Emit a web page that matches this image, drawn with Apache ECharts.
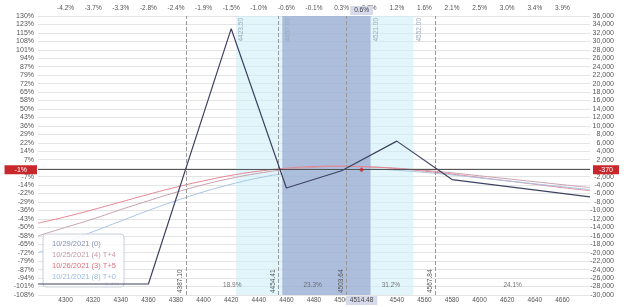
<!DOCTYPE html>
<html><head><meta charset="utf-8">
<script src="https://cdn.jsdelivr.net/npm/echarts@6/dist/echarts.min.js"></script>
<style>html,body{margin:0;padding:0;background:#fff}#c{width:624px;height:307px}</style>
</head><body><div id="c"></div>
<script>
// ---- data ----
const priceTicks = [4300,4320,4340,4360,4380,4400,4420,4440,4460,4480,4500,4520,4540,4560,4580,4600,4620,4640,4660];
const pctTopLabels = ["-4.2%","-3.7%","-3.3%","-2.8%","-2.4%","-1.9%","-1.5%","-1.0%","-0.6%","-0.1%","0.3%","0.7%","1.2%","1.6%","2.1%","2.5%","3.0%","3.4%","3.9%"];
const pctLeftLabels = ["130%","123%","115%","108%","101%","94%","87%","79%","72%","65%","58%","50%","43%","36%","29%","22%","14%","7%","0%","-7%","-14%","-22%","-29%","-36%","-43%","-50%","-58%","-65%","-72%","-79%","-87%","-94%","-101%","-108%"];
const seriesNames = ["10/29/2021 (0)","10/25/2021 (4) T+4","10/26/2021 (3) T+5","10/21/2021 (8) T+0"];
const expiryPnl = [[4280,-27400],[4360,-27400],[4420,33000],[4460,-4700],[4500,-600],[4540,6400],[4580,-2700],[4680,-6800]];
const curvePrices = [4280,4300,4320,4340,4360,4380,4400,4420,4440,4460,4480,4500,4520,4540,4560,4580,4600,4620,4640,4660,4680];
const tPlus4 = [-16000,-14000,-12000,-9800,-7700,-5700,-3900,-2400,-1200,-300,200,400,300,0,-500,-1100,-1800,-2500,-3200,-3900,-4600];
const tPlus5 = [-13000,-11500,-9800,-8000,-6200,-4500,-3000,-1700,-700,0,400,500,300,-100,-700,-1400,-2200,-3000,-3800,-4600,-5300];
const tPlus0 = [-20000,-17500,-15000,-12500,-10000,-7700,-5600,-3800,-2300,-1200,-500,-200,-200,-500,-1000,-1600,-2300,-3000,-3700,-4400,-5100];
const breakevens = [4387.10,4454.41,4503.64,4567.84];
const probLabels = ["8.4%","18.9%","23.3%","31.2%","24.1%"];
const outerBand = [4423.5,4552.0];
const innerBand = [4457.0,4521.0];
const currentPrice = 4514.48;
const currentPnl = -370;
const currentPctX = "0.6%";
const currentPctY = "-1%";

const xMin = 4280, xMax = 4680, yMin = -30000, yMax = 36000, yStep = 2000;

// ---- chart ----
const chart = echarts.init(document.getElementById('c'), null, {renderer:'canvas'});
const fmtK = v => (v<0?'-':'') + Math.abs(v).toLocaleString('en-US');
const font = 'Liberation Sans, Arial, sans-serif';
const txt = '#555';
const clear = 'rgba(0,0,0,0)';

const bounds = [xMin].concat(breakevens).concat([xMax]);
const probData = probLabels.map((p,i)=>({value:[(bounds[i]+bounds[i+1])/2, -27600], label:{formatter:p}}));

const option = {
  animation:false,
  textStyle:{fontFamily:font},
  grid:{left:38,right:34,top:16,bottom:12,containLabel:false},
  legend:{
    left:43, top:234, orient:'vertical', itemWidth:0, itemHeight:7, itemGap:3,
    icon:'none', padding:[6,8,6,8], backgroundColor:'rgba(255,255,255,0.85)',
    borderColor:'#c8cce0', borderWidth:1, borderRadius:3,
    data:[
      {name:seriesNames[0], textStyle:{color:'#8890b8'}},
      {name:seriesNames[1], textStyle:{color:'#c49aa8'}},
      {name:seriesNames[2], textStyle:{color:'#e0707e'}},
      {name:seriesNames[3], textStyle:{color:'#9cbde2'}}
    ],
    textStyle:{fontSize:7.5, fontFamily:font, padding:[0,0,0,-4]}
  },
  xAxis:[
    {type:'value', min:xMin, max:xMax, interval:20, position:'bottom',
     axisLine:{show:false}, axisTick:{show:false}, splitLine:{show:false},
     axisLabel:{fontSize:6.5, color:txt, margin:2, showMinLabel:false, showMaxLabel:false, formatter:v=>String(v)}},
    {type:'value', min:xMin, max:xMax, interval:20, position:'top',
     axisLine:{show:false}, axisTick:{show:false}, splitLine:{show:false},
     axisLabel:{fontSize:6.5, color:txt, margin:4, showMinLabel:false, showMaxLabel:false,
       formatter:v=>{const i=priceTicks.indexOf(v); return i>=0?pctTopLabels[i]:'';}}}
  ],
  yAxis:[
    {type:'value', min:yMin, max:yMax, interval:yStep, position:'right',
     axisLine:{show:false}, axisTick:{show:false},
     splitLine:{show:true, lineStyle:{color:'#e4e4e4', width:1}},
     axisLabel:{fontSize:7, color:txt, align:'right', margin:24, formatter:v=>v===0?'':fmtK(v)}},
    {type:'value', min:yMin, max:yMax, interval:yStep, position:'left',
     axisLine:{show:false}, axisTick:{show:false}, splitLine:{show:false},
     axisLabel:{fontSize:7, color:txt, margin:4,
       formatter:v=>{const i=Math.round((yMax-v)/yStep); return v===0?'':pctLeftLabels[i];}}}
  ],
  series:[
    {name:seriesNames[0], type:'line', data:expiryPnl, symbol:'none', z:5,
     lineStyle:{color:'#3e4262', width:1.2}, itemStyle:{color:'#8890b8'},
     markArea:{silent:true, data:[
       [{xAxis:outerBand[0], itemStyle:{color:'rgba(205,238,247,0.6)'}},{xAxis:outerBand[1]}],
       [{xAxis:innerBand[0], itemStyle:{color:'rgba(130,145,195,0.55)'}},{xAxis:innerBand[1]}]
     ]},
     markLine:{silent:true, symbol:'none', data:[
       ...breakevens.map(b=>({xAxis:b, lineStyle:{color:'#9a9a9a', type:'dashed', width:1},
          label:{show:true, position:'insideStartTop', formatter:b.toFixed(2), fontSize:6.5, color:txt, distance:2}})),
       {yAxis:currentPnl, lineStyle:{color:'#555', type:'solid', width:1.2},
          label:{show:true, position:'start', formatter:currentPctY, color:'#fff', backgroundColor:'#c8282c', padding:[1,10,1,10], fontSize:7, distance:1}},
       {yAxis:currentPnl, lineStyle:{color:clear, type:'solid', width:1},
          label:{show:true, position:'end', formatter:fmtK(currentPnl), color:'#fff', backgroundColor:'#c8282c', padding:[1,6,1,6], fontSize:7, distance:3}},
       {xAxis:currentPrice, lineStyle:{color:clear, width:1},
          label:{show:true, position:'start', formatter:String(currentPrice), color:'#444', backgroundColor:'#d6daea', padding:[1,4,1,4], fontSize:6.5, distance:1}},
       {xAxis:currentPrice, lineStyle:{color:clear, width:1},
          label:{show:true, position:'end', formatter:currentPctX, color:'#444', backgroundColor:'#d6daea', padding:[1,4,1,4], fontSize:6.5, distance:1}},
       ...outerBand.concat(innerBand).map(b=>({xAxis:b, lineStyle:{color:clear, width:1},
          label:{show:true, position:'insideEndBottom', formatter:b.toFixed(2), fontSize:6.5, color:'#9aaabb', distance:2}}))
     ]}
    },
    {name:seriesNames[1], type:'line', smooth:true, symbol:'none', data:curvePrices.map((p,i)=>[p,tPlus4[i]]),
     lineStyle:{color:'#c9a0ae', width:1}, itemStyle:{color:'#c49aa8'}},
    {name:seriesNames[2], type:'line', smooth:true, symbol:'none', data:curvePrices.map((p,i)=>[p,tPlus5[i]]),
     lineStyle:{color:'#e58592', width:1}, itemStyle:{color:'#e0707e'}},
    {name:seriesNames[3], type:'line', smooth:true, symbol:'none', data:curvePrices.map((p,i)=>[p,tPlus0[i]]),
     lineStyle:{color:'#a8c4e4', width:1}, itemStyle:{color:'#9cbde2'}},
    {type:'scatter', data:probData, symbolSize:0, silent:true,
     label:{show:true, position:'inside', fontSize:6.5, color:txt}},
    {type:'scatter', data:[[currentPrice,currentPnl]], symbol:'diamond', symbolSize:5, z:10, silent:true,
     itemStyle:{color:'#d02020'}}
  ]
};
chart.setOption(option);
</script></body></html>
